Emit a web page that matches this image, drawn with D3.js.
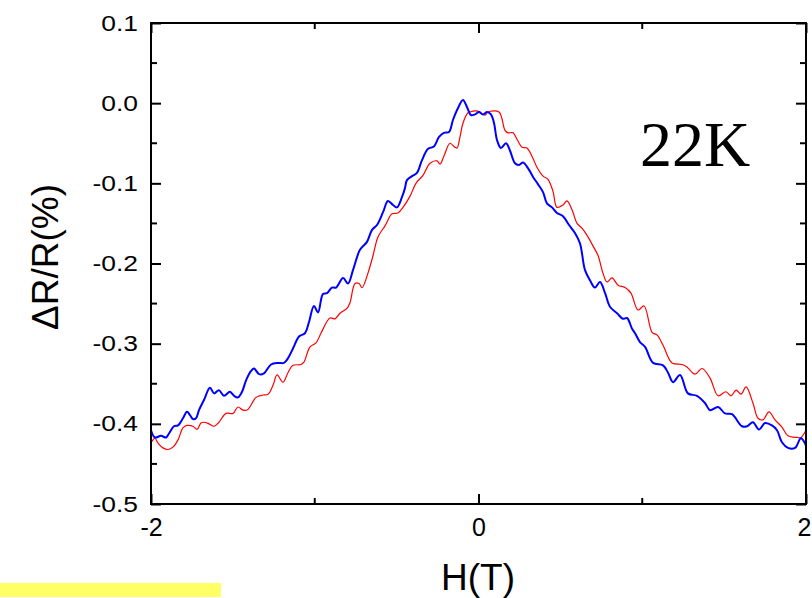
<!DOCTYPE html>
<html><head><meta charset="utf-8">
<script src="https://cdn.jsdelivr.net/npm/d3@7"></script>
<style>html,body{margin:0;padding:0;background:#fff;}svg{display:block;}</style>
</head><body>
<script>
const blueH = [-2.000,-1.976,-1.939,-1.908,-1.890,-1.860,-1.835,-1.805,-1.780,-1.762,-1.744,-1.725,-1.707,-1.676,-1.640,-1.615,-1.585,-1.554,-1.518,-1.493,-1.469,-1.444,-1.420,-1.389,-1.371,-1.340,-1.310,-1.267,-1.224,-1.188,-1.163,-1.133,-1.096,-1.060,-1.035,-1.005,-0.980,-0.950,-0.925,-0.895,-0.870,-0.827,-0.797,-0.766,-0.724,-0.681,-0.650,-0.620,-0.583,-0.553,-0.522,-0.498,-0.467,-0.449,-0.437,-0.406,-0.376,-0.345,-0.308,-0.272,-0.241,-0.211,-0.180,-0.156,-0.125,-0.095,-0.070,-0.046,-0.021,0.003,0.027,0.052,0.076,0.095,0.113,0.137,0.168,0.192,0.223,0.247,0.272,0.302,0.333,0.363,0.394,0.418,0.449,0.479,0.516,0.553,0.589,0.620,0.650,0.681,0.711,0.742,0.773,0.803,0.846,0.882,0.907,0.937,0.956,0.986,1.017,1.066,1.127,1.157,1.188,1.231,1.279,1.334,1.383,1.414,1.463,1.505,1.548,1.609,1.640,1.676,1.713,1.750,1.792,1.823,1.853,1.890,1.933,1.969,2.000];
const blueR = [-0.408,-0.417,-0.415,-0.417,-0.412,-0.403,-0.402,-0.393,-0.385,-0.389,-0.394,-0.393,-0.383,-0.370,-0.355,-0.362,-0.358,-0.365,-0.360,-0.365,-0.367,-0.360,-0.346,-0.334,-0.331,-0.338,-0.337,-0.326,-0.324,-0.324,-0.318,-0.306,-0.291,-0.287,-0.273,-0.253,-0.261,-0.238,-0.237,-0.230,-0.230,-0.218,-0.225,-0.208,-0.183,-0.173,-0.158,-0.152,-0.136,-0.122,-0.127,-0.130,-0.117,-0.106,-0.096,-0.091,-0.087,-0.071,-0.057,-0.054,-0.042,-0.037,-0.036,-0.021,-0.006,0.004,-0.005,-0.015,-0.014,-0.011,-0.014,-0.011,-0.014,-0.025,-0.046,-0.056,-0.050,-0.059,-0.075,-0.077,-0.074,-0.081,-0.092,-0.101,-0.111,-0.125,-0.130,-0.137,-0.141,-0.152,-0.162,-0.175,-0.208,-0.221,-0.230,-0.223,-0.237,-0.254,-0.262,-0.269,-0.268,-0.281,-0.287,-0.298,-0.304,-0.324,-0.327,-0.336,-0.348,-0.339,-0.362,-0.365,-0.374,-0.383,-0.379,-0.387,-0.388,-0.403,-0.403,-0.398,-0.407,-0.399,-0.402,-0.408,-0.423,-0.430,-0.430,-0.418,-0.427];
const redH = [-2.000,-1.976,-1.957,-1.927,-1.896,-1.866,-1.835,-1.805,-1.780,-1.744,-1.719,-1.695,-1.676,-1.646,-1.615,-1.585,-1.542,-1.499,-1.469,-1.438,-1.408,-1.359,-1.316,-1.285,-1.255,-1.230,-1.194,-1.163,-1.133,-1.084,-1.066,-1.029,-0.992,-0.962,-0.907,-0.876,-0.846,-0.803,-0.785,-0.754,-0.730,-0.711,-0.675,-0.644,-0.614,-0.571,-0.528,-0.492,-0.461,-0.418,-0.382,-0.339,-0.296,-0.253,-0.235,-0.211,-0.174,-0.144,-0.131,-0.113,-0.095,-0.064,-0.034,-0.003,0.040,0.058,0.125,0.162,0.180,0.211,0.235,0.266,0.296,0.333,0.357,0.394,0.424,0.455,0.479,0.516,0.540,0.571,0.602,0.632,0.663,0.699,0.730,0.760,0.785,0.815,0.852,0.895,0.931,0.974,1.011,1.060,1.090,1.127,1.182,1.243,1.273,1.322,1.365,1.414,1.463,1.511,1.542,1.573,1.603,1.634,1.676,1.707,1.737,1.774,1.811,1.853,1.890,1.945,1.969,2.000];
const redR = [-0.424,-0.418,-0.424,-0.430,-0.432,-0.429,-0.420,-0.405,-0.402,-0.403,-0.407,-0.399,-0.398,-0.400,-0.403,-0.398,-0.387,-0.387,-0.379,-0.383,-0.382,-0.367,-0.364,-0.363,-0.352,-0.339,-0.348,-0.336,-0.327,-0.326,-0.323,-0.304,-0.299,-0.287,-0.268,-0.269,-0.262,-0.256,-0.249,-0.225,-0.225,-0.230,-0.212,-0.190,-0.167,-0.153,-0.138,-0.137,-0.130,-0.116,-0.100,-0.090,-0.075,-0.072,-0.076,-0.066,-0.050,-0.055,-0.056,-0.042,-0.025,-0.012,-0.010,-0.010,-0.015,-0.011,-0.011,-0.034,-0.037,-0.037,-0.045,-0.055,-0.056,-0.069,-0.080,-0.091,-0.095,-0.110,-0.130,-0.127,-0.122,-0.133,-0.150,-0.156,-0.165,-0.178,-0.190,-0.212,-0.223,-0.218,-0.227,-0.230,-0.237,-0.258,-0.253,-0.286,-0.289,-0.302,-0.324,-0.326,-0.329,-0.338,-0.331,-0.343,-0.365,-0.360,-0.365,-0.358,-0.363,-0.354,-0.374,-0.393,-0.395,-0.385,-0.395,-0.404,-0.415,-0.417,-0.417,-0.408];
const xTickLabels = [-2, 0, 2];
const yTickLabels = [0.1, 0.0, -0.1, -0.2, -0.3, -0.4, -0.5];
const xLabel = "H(T)";
const yLabel = "\u0394R/R(%)";
const annotation = "22K";

const W = 812, H = 598;
const svg = d3.select("body").append("svg").attr("width", W).attr("height", H);
const x = d3.scaleLinear().domain([-2, 2]).range([151, 806]);
const y = d3.scaleLinear().domain([-0.5, 0.1]).range([504, 23]);

// yellow strip
svg.append("rect").attr("x", 0).attr("y", 583).attr("width", 221).attr("height", 14).attr("fill", "#ffff66");

const g = svg.append("g");
svg.append("clipPath").attr("id", "clip").append("rect")
  .attr("x", 151).attr("y", 23).attr("width", 655).attr("height", 481);

const line = d3.line().x(d => x(d[0])).y(d => y(d[1])).curve(d3.curveCatmullRom.alpha(0.5));
const redData = redH.map((h, i) => [h, redR[i]]);
const blueData = blueH.map((h, i) => [h, blueR[i]]);
g.append("path").datum(redData).attr("d", line).attr("fill", "none").attr("stroke", "#ff0000").attr("stroke-width", 1.2).attr("clip-path", "url(#clip)");
g.append("path").datum(blueData).attr("d", line).attr("fill", "none").attr("stroke", "#0000ff").attr("stroke-width", 2).attr("clip-path", "url(#clip)");

// axes
const fontTick = "Arial, 'Liberation Sans', sans-serif";
const fmtY = d => (d < 0 ? "-" : "") + d3.format(".1f")(Math.abs(d));
const fmtX = d => (d < 0 ? "-" : "") + Math.abs(d);
const yAxisL = d3.axisLeft(y).tickValues(yTickLabels).tickSize(-10).tickPadding(11).tickFormat(fmtY);
const yAxisR = d3.axisRight(y).tickValues(yTickLabels).tickSize(-10).tickFormat("");
const xAxisB = d3.axisBottom(x).tickValues(xTickLabels).tickSize(-10).tickPadding(14).tickFormat(fmtX);
const xAxisT = d3.axisTop(x).tickValues(xTickLabels).tickSize(-10).tickFormat("");
const minorY = d3.range(-0.45, 0.1, 0.1);
const minorX = [-1, 1];

function styleAxis(sel){
  sel.select(".domain").remove();
  sel.selectAll(".tick line").attr("stroke", "#000").attr("stroke-width", 2);
  sel.selectAll("text").attr("font-family", fontTick).attr("fill", "#000");
}
const gL = svg.append("g").attr("transform", "translate(151,0)").call(yAxisL).call(styleAxis);
gL.attr("font-size", 22);
gL.selectAll("text").attr("font-size", 22).attr("x", -13 / 1.2).attr("transform", "scale(1.2,1)");
svg.append("g").attr("transform", "translate(806,0)").call(yAxisR).call(styleAxis);
const gB = svg.append("g").attr("transform", "translate(0,504)").call(xAxisB).call(styleAxis);
gB.attr("font-size", 25);
gB.selectAll("text").attr("font-size", 25);
gB.selectAll(".tick").filter(d => d === 2).select("text").attr("text-anchor", "end").attr("x", 5);
svg.append("g").attr("transform", "translate(0,23)").call(xAxisT).call(styleAxis);

// minor ticks
minorY.forEach(v => {
  svg.append("line").attr("x1", 151).attr("x2", 157).attr("y1", y(v)).attr("y2", y(v)).attr("stroke", "#000").attr("stroke-width", 2);
  svg.append("line").attr("x1", 806).attr("x2", 800).attr("y1", y(v)).attr("y2", y(v)).attr("stroke", "#000").attr("stroke-width", 2);
});
minorX.forEach(v => {
  svg.append("line").attr("x1", x(v)).attr("x2", x(v)).attr("y1", 504).attr("y2", 498).attr("stroke", "#000").attr("stroke-width", 2);
  svg.append("line").attr("x1", x(v)).attr("x2", x(v)).attr("y1", 23).attr("y2", 29).attr("stroke", "#000").attr("stroke-width", 2);
});

// frame
svg.append("rect").attr("x", 151).attr("y", 23).attr("width", 655).attr("height", 481)
  .attr("fill", "none").attr("stroke", "#000").attr("stroke-width", 2);

// labels
svg.append("text").attr("x", 478).attr("y", 590).attr("text-anchor", "middle")
  .attr("font-family", fontTick).attr("font-size", 37).text(xLabel);
svg.append("text").attr("transform", "translate(58,257) rotate(-90)").attr("text-anchor", "middle")
  .attr("font-family", fontTick).attr("font-size", 37).text(yLabel);
svg.append("text").attr("x", 640).attr("y", 166)
  .attr("font-family", "'Liberation Serif', 'Times New Roman', serif").attr("font-size", 64).text(annotation);
</script>
</body></html>
